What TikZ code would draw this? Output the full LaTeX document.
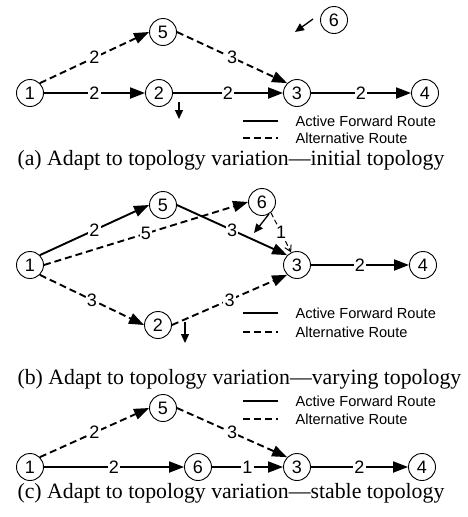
\documentclass[tikz,border=0pt]{standalone}
\usepackage{fontspec}
\setmainfont{Liberation Serif}
\setsansfont{Liberation Sans}
\usetikzlibrary{arrows.meta, positioning}

\begin{document}
\begin{tikzpicture}[
    x=1pt, y=-1pt,
    vertex/.style={
      circle,
      draw,
      line width=0.9pt,
      minimum size=27pt,
      inner sep=0pt,
      font=\sffamily\fontsize{18}{18}\selectfont
    },
    active/.style={
      line width=1.9pt,
      -{Triangle[length=15pt, width=11pt]}
    },
    alt/.style={
      active,
      dash pattern=on 7pt off 4pt
    },
    thinalt/.style={
      line width=1pt,
      dash pattern=on 5pt off 3pt,
      -{Straight Barb[length=6pt, width=7pt]}
    },
    lbl/.style={
      fill=white,
      inner sep=1.2pt,
      font=\sffamily\fontsize{18}{18}\selectfont
    },
    move/.style={
      line width=1.3pt,
      -{Triangle[length=9pt, width=8pt]}
    },
    legline/.style={line width=1.9pt},
    legtext/.style={anchor=west, font=\sffamily\fontsize{14.6}{14.6}\selectfont},
    caption/.style={anchor=west, font=\fontsize{21.8}{21.8}\selectfont}
  ]

  \useasboundingbox (0,0) rectangle (467,517);

  % (a) initial topology
  \node[vertex] (a1) at (30,93) {1};
  \node[vertex] (a2) at (159,93) {2};
  \node[vertex] (a3) at (297,93) {3};
  \node[vertex] (a4) at (425,93) {4};
  \node[vertex] (a5) at (163,32) {5};
  \node[vertex] (a6) at (334,20) {6};

  \draw[active] (a1) -- node[lbl] {2} (a2);
  \draw[active] (a2) -- node[lbl] {2} (a3);
  \draw[active] (a3) -- node[lbl] {2} (a4);
  \draw[alt] (a1.north east) -- node[lbl] {2} (a5.west);
  \draw[alt] (a5.east) -- node[lbl] {3} (a3.north west);

  % node movement
  \coordinate (a6from) at (313,19);
  \coordinate (a6to) at (295,32);
  \draw[move] (a6from) -- (a6to);
  \coordinate (a2from) at (179,102);
  \coordinate (a2to) at (179,119);
  \draw[move] (a2from) -- (a2to);

  % legend
  \coordinate (la1) at (243,121);
  \coordinate (la2) at (278,121);
  \coordinate (la3) at (243,138);
  \coordinate (la4) at (278,138);
  \draw[legline] (la1) -- (la2);
  \draw[legline, dash pattern=on 7pt off 4pt] (la3) -- (la4);
  \node[legtext] (lta) at (292,121) {Active Forward Route};
  \node[legtext] (ltb) at (292,138) {Alternative Route};

  \node[caption] (capa) at (14,160) {(a) Adapt to topology variation---initial topology};

  % (b) varying topology
  \node[vertex] (b1) at (30,265) {1};
  \node[vertex] (b2) at (158,325) {2};
  \node[vertex] (b3) at (297,265) {3};
  \node[vertex] (b4) at (423,265) {4};
  \node[vertex] (b5) at (163,205) {5};
  \node[vertex] (b6) at (262,202) {6};

  \draw[active] (b1.north east) -- node[lbl] {2} (b5.west);
  \draw[alt] (b1.east) -- node[lbl] {5} (b6.west);
  \draw[active] (b5.east) -- node[lbl] {3} (b3.north west);
  \draw[thinalt] (b6.-50) -- node[lbl, inner sep=0.5pt] {1} (b3.115);
  \draw[alt] (b1.south east) -- node[lbl] {3} (b2.west);
  \draw[alt] (b2.east) -- node[lbl] {3} (b3.south west);
  \draw[active] (b3) -- node[lbl] {2} (b4);

  % node movement
  \coordinate (b6from) at (269,214);
  \coordinate (b6to) at (254,233);
  \draw[move] (b6from) -- (b6to);
  \coordinate (b2from) at (185,322);
  \coordinate (b2to) at (185,343);
  \draw[move] (b2from) -- (b2to);

  % legend
  \coordinate (lb1) at (243,313);
  \coordinate (lb2) at (278,313);
  \coordinate (lb3) at (243,332);
  \coordinate (lb4) at (278,332);
  \draw[legline] (lb1) -- (lb2);
  \draw[legline, dash pattern=on 7pt off 4pt] (lb3) -- (lb4);
  \node[legtext] (ltc) at (292,313) {Active Forward Route};
  \node[legtext] (ltd) at (292,332) {Alternative Route};

  \node[caption] (capb) at (14,379) {(b) Adapt to topology variation---varying topology};

  % (c) stable topology
  \node[vertex] (c1) at (30,467) {1};
  \node[vertex] (c6) at (198,467) {6};
  \node[vertex] (c3) at (297,467) {3};
  \node[vertex] (c4) at (422,467) {4};
  \node[vertex] (c5) at (163,408) {5};

  \draw[active] (c1) -- node[lbl] {2} (c6);
  \draw[active] (c6) -- node[lbl] {1} (c3);
  \draw[active] (c3) -- node[lbl] {2} (c4);
  \draw[alt] (c1.north east) -- node[lbl] {2} (c5.west);
  \draw[alt] (c5.east) -- node[lbl] {3} (c3.north west);

  % legend
  \coordinate (lc1) at (243,401);
  \coordinate (lc2) at (278,401);
  \coordinate (lc3) at (243,419);
  \coordinate (lc4) at (278,419);
  \draw[legline] (lc1) -- (lc2);
  \draw[legline, dash pattern=on 7pt off 4pt] (lc3) -- (lc4);
  \node[legtext] (lte) at (292,401) {Active Forward Route};
  \node[legtext] (ltf) at (292,419) {Alternative Route};

  \node[caption] (capc) at (14,493) {(c) Adapt to topology variation---stable topology};

\end{tikzpicture}
\end{document}
